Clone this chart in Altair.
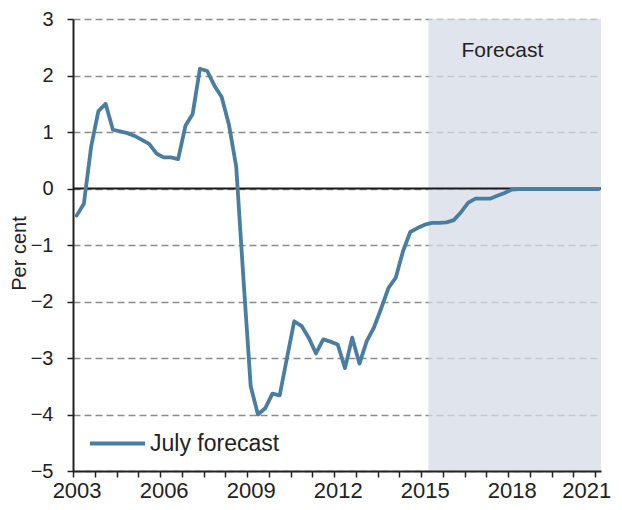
import altair as alt
import pandas as pd

# Quarterly categories, 2003Q1 .. 2021Q1
quarters = [f"{y}Q{q}" for y in range(2003, 2022) for q in range(1, 5)][:73]

# Output gap (per cent), July forecast
gap = [
    -0.48, -0.27, 0.74, 1.37, 1.50, 1.04, 1.01, 0.98, 0.93, 0.86,
    0.79, 0.62, 0.55, 0.55, 0.52, 1.11, 1.32, 2.12, 2.08, 1.82,
    1.62, 1.13, 0.39, -1.60, -3.50, -4.00, -3.89, -3.63, -3.66, -3.00,
    -2.35, -2.43, -2.64, -2.92, -2.67, -2.71, -2.76, -3.18, -2.64, -3.10,
    -2.70, -2.46, -2.12, -1.76, -1.58, -1.11, -0.77, -0.70, -0.64, -0.61,
    -0.61, -0.60, -0.56, -0.42, -0.25, -0.18, -0.18, -0.18, -0.13, -0.08,
    -0.02, -0.01, -0.01, -0.01, -0.01, -0.01, -0.01, -0.01, -0.01, -0.01,
    -0.01, -0.01, -0.01,
]

forecast_start = 2015.25
x_min, x_max = 2003, 2021.2
y_min, y_max = -5, 3
series_name = "July forecast"
forecast_label = "Forecast"
forecast_label_pos = (2017.8, 2.43)

FONT = "Liberation Sans"
TXT = "#222222"

def qtime(q):
    y, n = q.split("Q")
    return int(y) + (int(n) - 0.5) / 4

df = pd.DataFrame({
    "t": [qtime(q) for q in quarters],
    "value": gap,
    "series": series_name,
})
shade_df = pd.DataFrame({"t": [forecast_start], "t2": [x_max], "value": [y_max], "value2": [y_min]})
zero_df = pd.DataFrame({"value": [0]})
label_df = pd.DataFrame({"t": [forecast_label_pos[0]], "value": [forecast_label_pos[1]], "label": [forecast_label]})

x_scale = alt.Scale(domain=[x_min, x_max], nice=False, zero=False)
y_scale = alt.Scale(domain=[y_min, y_max], nice=False, zero=False)

x_axis = alt.Axis(
    values=[2003 + 0.75 * k for k in range(25)],
    labelExpr="datum.value % 3 == 2 ? format(datum.value, 'd') : ''",
    labelOffset={"condition": {"test": "datum.value == 2021", "value": -9}, "value": 3.6},
    labelFlush=False, labelOverlap=False, labelBound=False,
    grid=False, domainColor=TXT, domainWidth=2,
    tickColor=TXT, tickWidth=1.5, tickSize=6,
    labelFont=FONT, labelFontSize=22, labelColor=TXT, labelPadding=3,
    title=None, zindex=1,
)
y_axis = alt.Axis(
    values=list(range(-5, 4)), grid=True, gridDash=[7, 4], gridColor="#8c8c8c", gridWidth=1.5,
    domainColor=TXT, domainWidth=2, tickColor=TXT, tickWidth=1.5, tickSize=6,
    labelFont=FONT, labelFontSize=20, labelColor=TXT, labelPadding=14,
    title="Per cent", titleFont=FONT, titleFontSize=20, titleFontWeight="normal",
    titleColor=TXT, titleX=-54, titleY=234, titleBaseline="middle", titleAlign="center",
)

X = alt.X("t:Q", scale=x_scale, axis=x_axis)
Y = alt.Y("value:Q", scale=y_scale, axis=y_axis)

shade = alt.Chart(shade_df).mark_rect(color="#d6dce7", opacity=0.75).encode(
    x=X, x2="t2:Q", y=Y, y2="value2:Q"
)
zero = alt.Chart(zero_df).mark_rule(color="#1a1a1a", strokeWidth=2).encode(y=Y)
line = alt.Chart(df).mark_line(strokeWidth=3.8, strokeJoin="round", strokeCap="round").encode(
    x=X, y=Y,
    color=alt.Color("series:N", scale=alt.Scale(range=["#4a7ea1"]), legend=alt.Legend(
        orient="none", legendX=15, legendY=395, title=None, symbolType="stroke",
        symbolSize=3025, symbolStrokeWidth=4, labelFont=FONT, labelFontSize=23,
        labelColor=TXT, labelOffset=3, padding=0,
    )),
)
text = alt.Chart(label_df).mark_text(font=FONT, fontSize=21, color=TXT, align="center", baseline="middle").encode(
    x=X, y=Y, text="label:N"
)

chart = alt.layer(shade, zero, line, text).properties(
    width=528, height=452,
    autosize=alt.AutoSizeParams(type="none"),
    padding={"left": 65, "top": 11, "right": 12, "bottom": 31},
).configure_view(stroke=None)

chart.save("out.html", embed_options={"renderer": "svg", "actions": False})
